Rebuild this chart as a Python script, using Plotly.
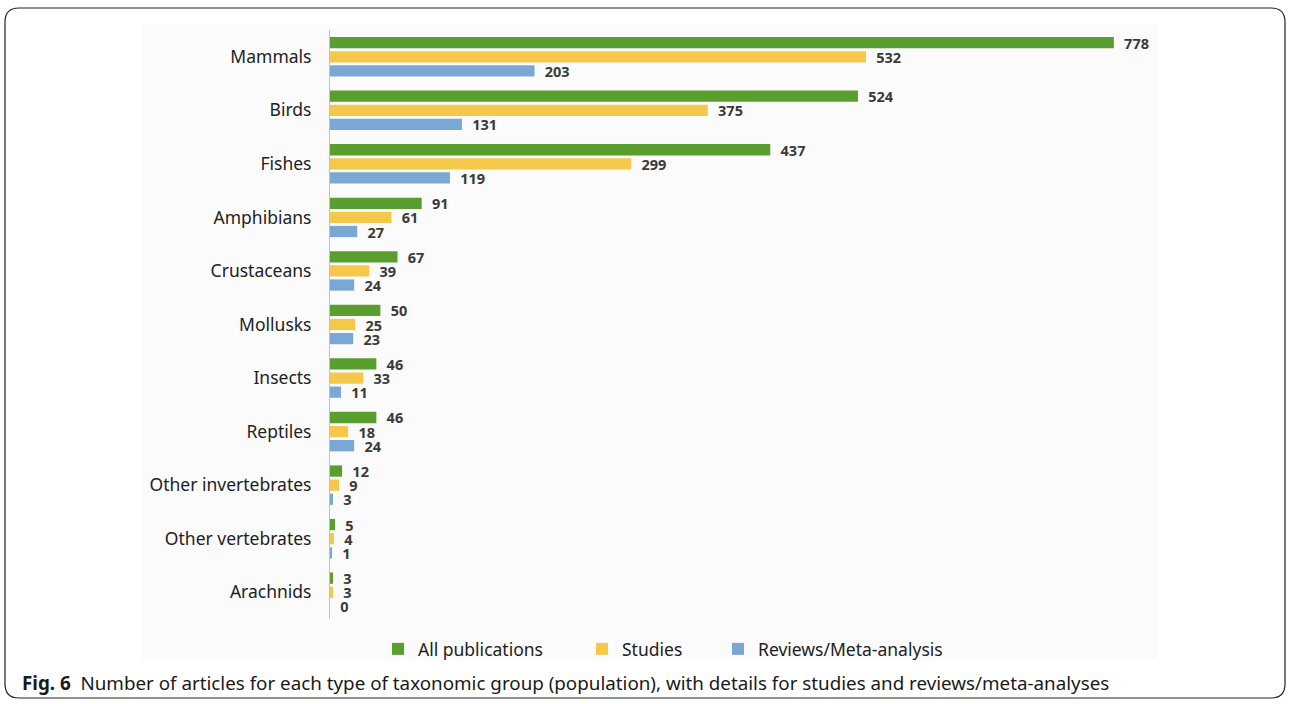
import plotly.graph_objects as go

categories = ["Mammals", "Birds", "Fishes", "Amphibians", "Crustaceans", "Mollusks",
              "Insects", "Reptiles", "Other invertebrates", "Other vertebrates", "Arachnids"]
all_publications = [778, 524, 437, 91, 67, 50, 46, 46, 12, 5, 3]
studies = [532, 375, 299, 61, 39, 25, 33, 18, 9, 4, 3]
reviews = [203, 131, 119, 27, 24, 23, 11, 24, 3, 1, 0]

W, H = 1290, 704
def px(x): return x / W
def py(y): return 1 - y / H

series = [
    ("All publications", all_publications, "#5a9e2f", "legend", 420),
    ("Studies", studies, "#f4c84a", "legend2", 624),
    ("Reviews/Meta-analysis", reviews, "#7ba7d5", "legend3", 760),
]

fig = go.Figure()
legends = {}
for name, vals, col, leg, tx in series:
    fig.add_trace(go.Bar(
        y=categories, x=vals, name=name, orientation="h",
        marker=dict(color=col, line=dict(width=0)),
        text=["\u2002" + str(v) for v in vals], textposition="outside",
        textfont=dict(family="Noto Sans", size=14.5, color="#3a3a3a", weight="bold"),
        constraintext="none", cliponaxis=False, legend=leg,
    ))
    legends[leg] = dict(orientation="h", x=px(tx - 42), xanchor="left", y=py(649), yanchor="middle",
                        font=dict(family="Noto Sans", size=17.5, color="#222222"),
                        bgcolor="rgba(0,0,0,0)")

# rounded border path
x0, y0, x1, y1, r = 5, 8, 1285, 698, 14
path = (f"M {px(x0+r)},{py(y0)} L {px(x1-r)},{py(y0)} Q {px(x1)},{py(y0)} {px(x1)},{py(y0+r)} "
        f"L {px(x1)},{py(y1-r)} Q {px(x1)},{py(y1)} {px(x1-r)},{py(y1)} "
        f"L {px(x0+r)},{py(y1)} Q {px(x0)},{py(y1)} {px(x0)},{py(y1-r)} "
        f"L {px(x0)},{py(y0+r)} Q {px(x0)},{py(y0)} {px(x0+r)},{py(y0)} Z")

fig.update_layout(
    template="none",
    width=W, height=H,
    margin=dict(l=0, r=0, t=0, b=0),
    paper_bgcolor="white", plot_bgcolor="rgba(0,0,0,0)",
    barmode="group", bargap=0.21, bargroupgap=0.2,
    showlegend=True,
    legend=legends["legend"], legend2=legends["legend2"], legend3=legends["legend3"],
    xaxis=dict(domain=[px(330), px(1136)], range=[0, 800], visible=False, automargin=False,
               showgrid=False, zeroline=False),
    yaxis=dict(domain=[py(619), py(30)], autorange="reversed", automargin=False,
               showgrid=False, zeroline=False, showline=True, linecolor="#c0c0c0", linewidth=1,
               ticks="", ticklabelstandoff=14,
               tickfont=dict(family="Noto Sans", size=17.5, color="#222222")),
    shapes=[
        dict(type="rect", xref="paper", yref="paper", x0=px(142), x1=px(1157), y0=py(660), y1=py(25),
             fillcolor="#fbfbfb", line=dict(width=0), layer="below"),
        dict(type="path", xref="paper", yref="paper", path=path,
             line=dict(color="#222222", width=1.2), fillcolor="rgba(0,0,0,0)"),
    ],
    annotations=[
        dict(xref="paper", yref="paper", x=px(20), y=py(683), xanchor="left", yanchor="middle",
             showarrow=False,
             text="<b>Fig. 6</b>  Number of articles for each type of taxonomic group (population), with details for studies and reviews/meta-analyses",
             font=dict(family="Noto Sans", size=18.8, color="#1a1a1a")),
    ],
)

fig.write_html("out.html", config={"displayModeBar": False},
               post_script="document.body.style.margin='0';document.body.style.overflow='hidden';")
